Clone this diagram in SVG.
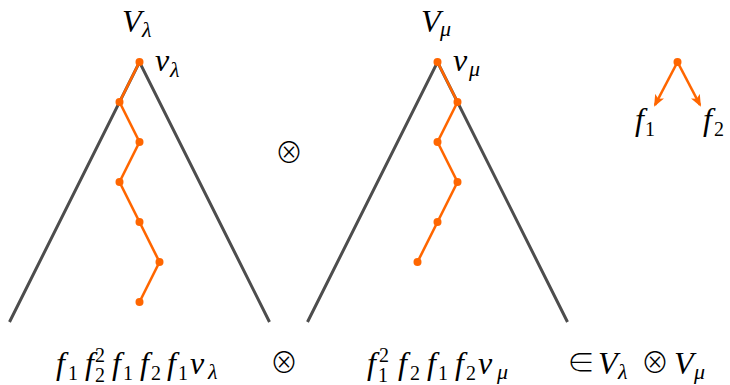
<svg xmlns="http://www.w3.org/2000/svg" width="730" height="385" viewBox="0 0 730 385">
<defs>
<style>
.leg{stroke:#4d4d4d;stroke-width:3;fill:none;stroke-linecap:butt}
.path{stroke:#ff6600;stroke-width:2.6;fill:none;stroke-linejoin:round}
.dot{fill:#ff6600}
.m{font-family:"Liberation Serif",serif;font-style:italic;font-size:32px;fill:#000}
.s{font-family:"Liberation Serif",serif;font-size:20px;fill:#000}
.si{font-family:"Liberation Serif",serif;font-style:italic;font-size:22px;fill:#000}
.op{font-family:"Noto Sans CJK JP","DejaVu Sans",sans-serif;font-weight:300;font-size:28px;fill:#000}
</style>
<marker id="arr" viewBox="0 0 12 10" refX="10" refY="5" markerWidth="12" markerHeight="10" markerUnits="userSpaceOnUse" orient="auto">
<path d="M0,0 L12,5 L0,10 L3,5 Z" fill="#ff6600"/>
</marker>
</defs>
<rect width="730" height="385" fill="#fff"/>

<g id="tri-lambda">
<polyline class="leg" points="9.5,322 139.5,62 269.5,322"/>
<text class="m" x="122" y="32">V</text><text class="si" x="142" y="37">λ</text>
<text class="m" x="155" y="71">v</text><text class="si" x="170" y="77">λ</text>
</g>

<g id="tri-mu">
<polyline class="leg" points="307.5,322 437.5,62 567.5,322"/>
<text class="m" x="421" y="32">V</text><text class="si" x="440" y="36">μ</text>
<text class="m" x="453" y="71">v</text><text class="si" x="469" y="76">μ</text>
</g>

<g id="tensor-mid">
<text class="op" x="289" y="163" text-anchor="middle">⊗</text>
</g>

<g id="connectors">
<polyline class="path" points="139.5,62 119.5,102 139.5,142 119.5,182 139.5,222 159.5,262 139.5,302"/>
<g class="dot">
<circle cx="139.5" cy="62" r="4"/><circle cx="119.5" cy="102" r="4"/><circle cx="139.5" cy="142" r="4"/><circle cx="119.5" cy="182" r="4"/><circle cx="139.5" cy="222" r="4"/><circle cx="159.5" cy="262" r="4"/><circle cx="139.5" cy="302" r="4"/>
</g>
<polyline class="path" points="437.5,62 457.5,102 437.5,142 457.5,182 437.5,222 417.5,262"/>
<g class="dot">
<circle cx="437.5" cy="62" r="4"/><circle cx="457.5" cy="102" r="4"/><circle cx="437.5" cy="142" r="4"/><circle cx="457.5" cy="182" r="4"/><circle cx="437.5" cy="222" r="4"/><circle cx="417.5" cy="262" r="4"/>
</g>
<line class="path" x1="677.5" y1="62" x2="655" y2="105" marker-end="url(#arr)"/>
<line class="path" x1="677.5" y1="62" x2="700" y2="105" marker-end="url(#arr)"/>
<circle class="dot" cx="677.5" cy="62" r="4"/>
</g>

<g id="legend">
<text class="m" x="635" y="130">f</text><text class="s" x="645" y="136">1</text>
<text class="m" x="703" y="130">f</text><text class="s" x="714" y="136">2</text>
</g>

<g id="formula-left">
<text class="m" x="56" y="374">f</text><text class="s" x="68" y="380">1</text>
<text class="m" x="85" y="374">f</text><text class="s" x="95" y="362">2</text><text class="s" x="95" y="382">2</text>
<text class="m" x="112" y="374">f</text><text class="s" x="123" y="380">1</text>
<text class="m" x="140" y="374">f</text><text class="s" x="151" y="380">2</text>
<text class="m" x="167" y="374">f</text><text class="s" x="178" y="380">1</text>
<text class="m" x="190" y="374">v</text><text class="si" x="208" y="379">λ</text>
</g>

<g id="tensor-bottom">
<text class="op" x="284" y="373" text-anchor="middle">⊗</text>
</g>

<g id="formula-right">
<text class="m" x="367" y="374">f</text><text class="s" x="379" y="362">2</text><text class="s" x="378" y="382">1</text>
<text class="m" x="398" y="374">f</text><text class="s" x="410" y="380">2</text>
<text class="m" x="427" y="374">f</text><text class="s" x="438" y="380">1</text>
<text class="m" x="455" y="374">f</text><text class="s" x="466" y="380">2</text>
<text class="m" x="478" y="374">v</text><text class="si" x="497" y="379">μ</text>
</g>

<g id="membership">
<text class="op" x="581" y="373" text-anchor="middle">∈</text>
<text class="m" x="598" y="374">V</text><text class="si" x="618" y="379">λ</text>
<text class="op" x="655" y="373" text-anchor="middle">⊗</text>
<text class="m" x="674" y="374">V</text><text class="si" x="694" y="379">μ</text>
</g>
</svg>
